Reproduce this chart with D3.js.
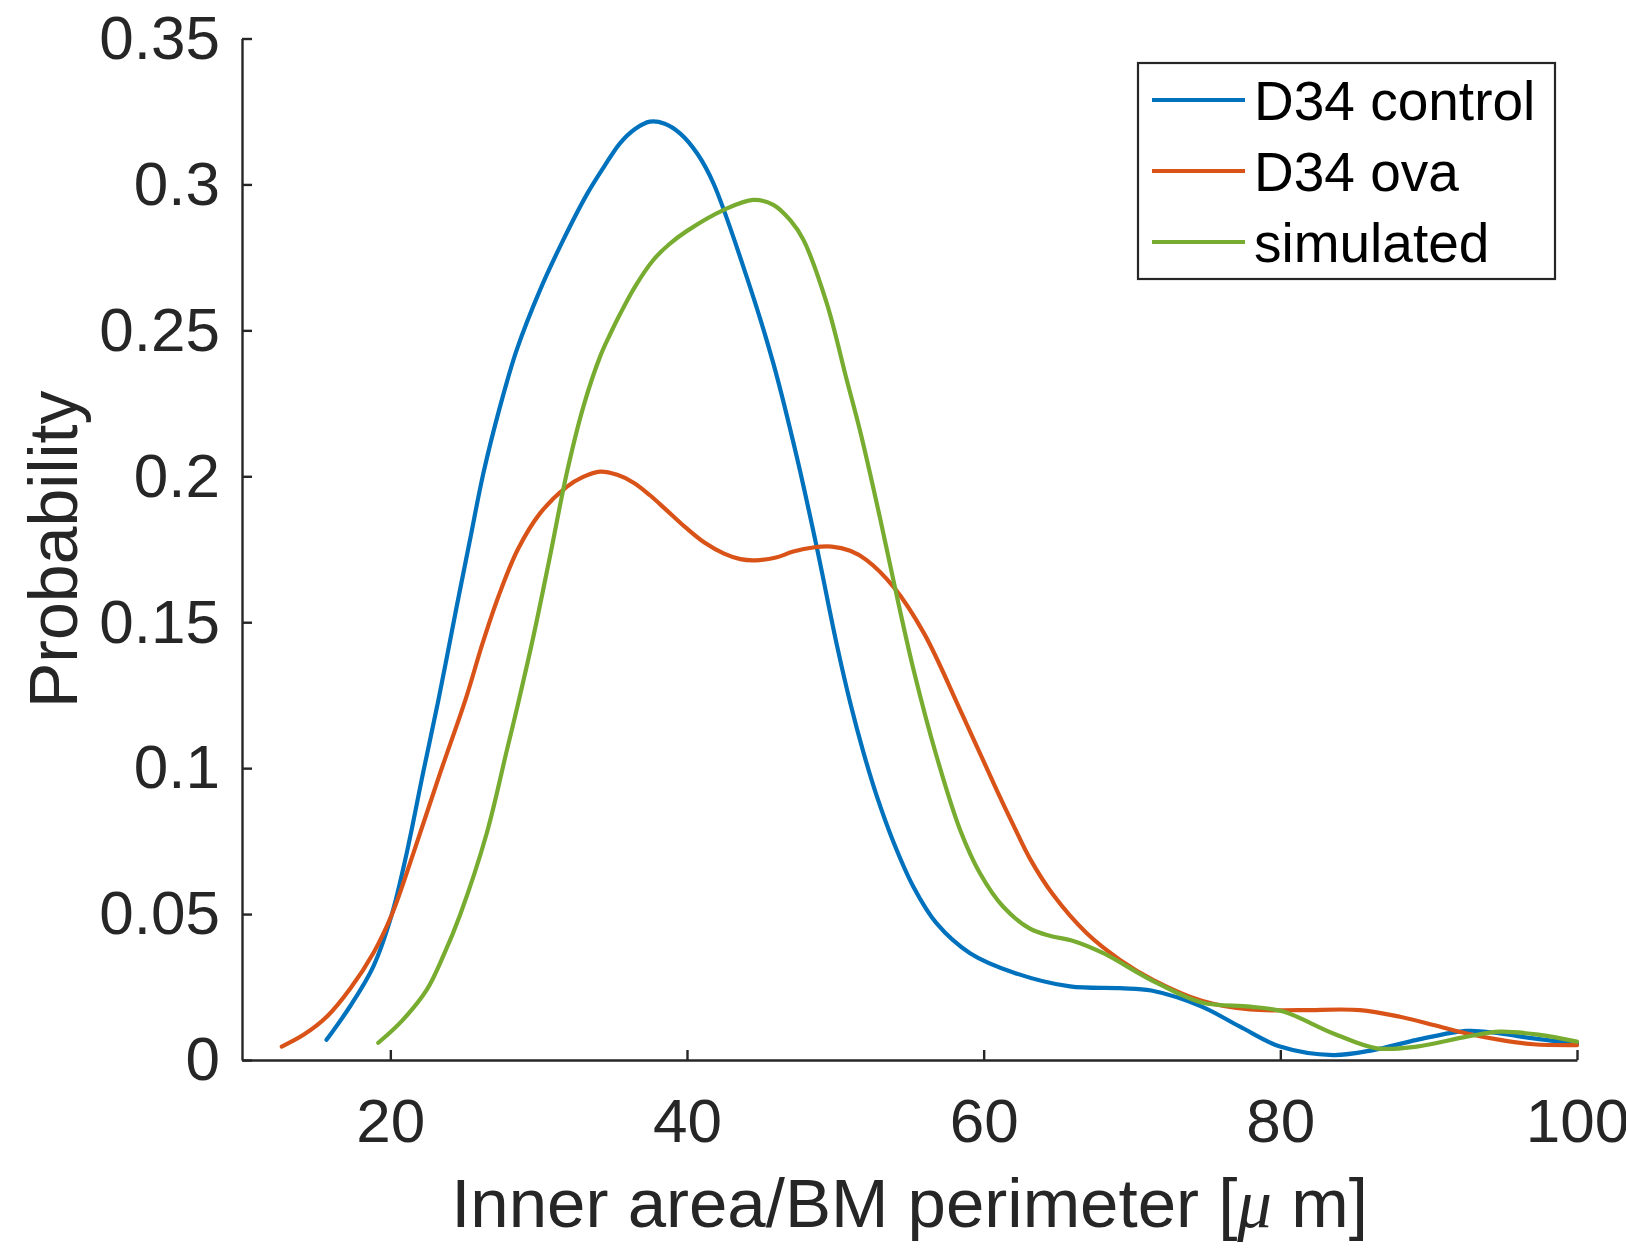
<!DOCTYPE html>
<html>
<head>
<meta charset="utf-8">
<script src="https://cdn.jsdelivr.net/npm/d3@7"></script>
<style>
  html, body { margin: 0; padding: 0; background: #fff; }
  svg { display: block; }
  text { font-family: "Liberation Sans", Arial, Helvetica, sans-serif; fill: #262626; }
</style>
</head>
<body>
<svg id="chart" width="1626" height="1248"></svg>
<script>
// Kernel density estimates: [Inner area/BM perimeter (µm), probability]
const d34Control = [
  [15.7, 0.0069], [17.3, 0.0185], [18.85, 0.032], [20.09, 0.0497], [21.1, 0.0708],
  [22.2, 0.0982], [23.24, 0.1233], [24.47, 0.1553], [25.37, 0.1782], [26.27, 0.201],
  [27.39, 0.2238], [28.52, 0.2433], [30.09, 0.2638], [31.66, 0.281], [33.24, 0.2965],
  [34.4, 0.3060], [35.48, 0.3141], [36.5, 0.3190], [37.5, 0.3215], [38.5, 0.3208],
  [39.53, 0.3175], [40.7, 0.3105], [41.78, 0.3004], [44.02, 0.2684], [45.82, 0.2387],
  [47.4, 0.2067], [48.74, 0.1759], [50.09, 0.1425], [51.0, 0.1225], [51.89, 0.1055],
  [52.79, 0.0905], [53.91, 0.0748], [55.26, 0.0594], [56.83, 0.0468], [59.08, 0.0366],
  [62.0, 0.0300], [65.82, 0.0252], [69.19, 0.0246], [71.3, 0.0238], [74.7, 0.0183],
  [77.28, 0.0114], [79.98, 0.0046], [83.57, 0.0017], [86.27, 0.0034], [89.2, 0.0069],
  [92.57, 0.0100], [94.81, 0.0091], [97.06, 0.0074], [100, 0.0057]
];

const d34Ova = [
  [12.68, 0.0046], [14.2, 0.0088], [15.71, 0.0148], [17.3, 0.0245], [18.85, 0.0366],
  [20.09, 0.0497], [21.55, 0.0708], [23.35, 0.0982], [25.1, 0.124], [26.2, 0.1425],
  [27.3, 0.1590], [28.6, 0.1750], [30.09, 0.1873], [31.89, 0.1964], [33.0, 0.1998],
  [34.14, 0.2016], [35.3, 0.2005], [36.4, 0.1978], [37.5, 0.1935], [38.6, 0.1885],
  [39.9, 0.1825], [41.2, 0.1772], [42.5, 0.1735], [43.6, 0.1716], [44.6, 0.1712],
  [46.0, 0.1722], [47.17, 0.1742], [48.5, 0.1756], [49.75, 0.1759], [51.0, 0.1745],
  [52.11, 0.1713], [53.91, 0.1622], [56.0, 0.146], [58.5, 0.119], [60.88, 0.0925],
  [62.0, 0.0805], [63.12, 0.0690], [64.7, 0.0565], [66.95, 0.0434], [69.19, 0.0343],
  [71.44, 0.0274], [74.7, 0.0203], [77.96, 0.0173], [81.33, 0.0171], [85.37, 0.0171],
  [88.07, 0.0148], [90.32, 0.012], [92.57, 0.0091], [94.81, 0.0069], [97.06, 0.0054],
  [100, 0.0051]
];

const simulated = [
  [19.19, 0.0059], [20.8, 0.0135], [22.45, 0.024], [23.6, 0.036], [24.7, 0.0497],
  [26.5, 0.0777], [27.85, 0.106], [28.63, 0.1225], [29.64, 0.145], [30.76, 0.1725],
  [31.89, 0.201], [33.01, 0.2238], [34.14, 0.241], [34.8, 0.2485], [35.48, 0.2555],
  [36.5, 0.2650], [37.73, 0.2741], [38.8, 0.2795], [39.98, 0.2840], [42.45, 0.2912],
  [44.47, 0.2947], [45.82, 0.293], [47.0, 0.2875], [47.85, 0.281], [49.42, 0.2593],
  [50.77, 0.233], [51.67, 0.2155], [53.0, 0.186], [53.91, 0.1645], [55.26, 0.134],
  [56.83, 0.104], [58.4, 0.079], [59.75, 0.064], [61.32, 0.0525], [63.12, 0.0450],
  [64.5, 0.0425], [66.04, 0.0408], [68.07, 0.0366], [71.3, 0.0274], [74.7, 0.0197],
  [77.96, 0.0183], [80.2, 0.0166], [83.57, 0.0091], [86.5, 0.004], [89.2, 0.0046],
  [92.57, 0.008], [94.81, 0.0097], [97.5, 0.0086], [100, 0.0063]
];

const seriesNames = ["D34 control", "D34 ova", "simulated"];
const seriesColors = ["#0072BD", "#D95319", "#77AC30"];
const seriesData = [d34Control, d34Ova, simulated];

const xTicks = [20, 40, 60, 80, 100];
const yTicks = [0, 0.05, 0.1, 0.15, 0.2, 0.25, 0.3, 0.35];
const yTickLabels = ["0", "0.05", "0.1", "0.15", "0.2", "0.25", "0.3", "0.35"];

const svg = d3.select("#chart");
const plot = { left: 242, right: 1577, top: 38.5, bottom: 1060 };

const x = d3.scaleLinear().domain([10, 100]).range([plot.left, plot.right]);
const y = d3.scaleLinear().domain([0, 0.35]).range([plot.bottom, plot.top]);

// Axes with inward ticks
const xAxis = d3.axisBottom(x)
  .tickValues(xTicks)
  .tickFormat(d3.format("d"))
  .tickSizeInner(-10)
  .tickSizeOuter(0)
  .tickPadding(38);

const yAxis = d3.axisLeft(y)
  .tickValues(yTicks)
  .tickFormat((d, i) => yTickLabels[i])
  .tickSizeInner(-10)
  .tickSizeOuter(0)
  .tickPadding(22);

const gx = svg.append("g").attr("transform", `translate(0,${plot.bottom})`).call(xAxis);
const gy = svg.append("g").attr("transform", `translate(${plot.left},0)`).call(yAxis);

[gx, gy].forEach(g => {
  g.select(".domain").attr("stroke", "#262626").attr("stroke-width", 2.4);
  g.selectAll(".tick line").attr("stroke", "#262626").attr("stroke-width", 2.4);
  g.selectAll(".tick text")
    .attr("fill", "#262626")
    .style("font-family", '"Liberation Sans", Arial, sans-serif')
    .style("font-size", "62px");
});

// Density curves
const line = d3.line()
  .x(d => x(d[0]))
  .y(d => y(d[1]))
  .curve(d3.curveCatmullRom.alpha(0.5));

svg.append("g")
  .selectAll("path")
  .data(seriesData)
  .join("path")
  .attr("d", line)
  .attr("fill", "none")
  .attr("stroke", (d, i) => seriesColors[i])
  .attr("stroke-width", 4.2)
  .attr("stroke-linejoin", "round")
  .attr("stroke-linecap", "round");

// Axis titles
const xLabel = svg.append("text")
  .attr("x", (plot.left + plot.right) / 2)
  .attr("y", 1227)
  .attr("text-anchor", "middle")
  .style("font-size", "69px");
xLabel.append("tspan").text("Inner area/BM perimeter [");
xLabel.append("tspan")
  .style("font-family", '"Liberation Serif", "DejaVu Serif", serif')
  .style("font-style", "italic")
  .text("\u03BC");
xLabel.append("tspan").text(" m]");

svg.append("text")
  .attr("transform", `translate(77,${(plot.top + plot.bottom) / 2}) rotate(-90)`)
  .attr("text-anchor", "middle")
  .style("font-size", "68px")
  .text("Probability");

// Legend
const legend = svg.append("g");
legend.append("rect")
  .attr("x", 1138).attr("y", 63)
  .attr("width", 417).attr("height", 216)
  .attr("fill", "#fff")
  .attr("stroke", "#262626")
  .attr("stroke-width", 2.2);

const rowY = [100, 171, 242];
seriesNames.forEach((name, i) => {
  legend.append("line")
    .attr("x1", 1152).attr("x2", 1245)
    .attr("y1", rowY[i]).attr("y2", rowY[i])
    .attr("stroke", seriesColors[i])
    .attr("stroke-width", 4.2);
  legend.append("text")
    .attr("x", 1254)
    .attr("y", rowY[i])
    .attr("dy", "0.36em")
    .style("font-size", "55px")
    .style("fill", "#000")
    .text(name);
});
</script>
</body>
</html>
